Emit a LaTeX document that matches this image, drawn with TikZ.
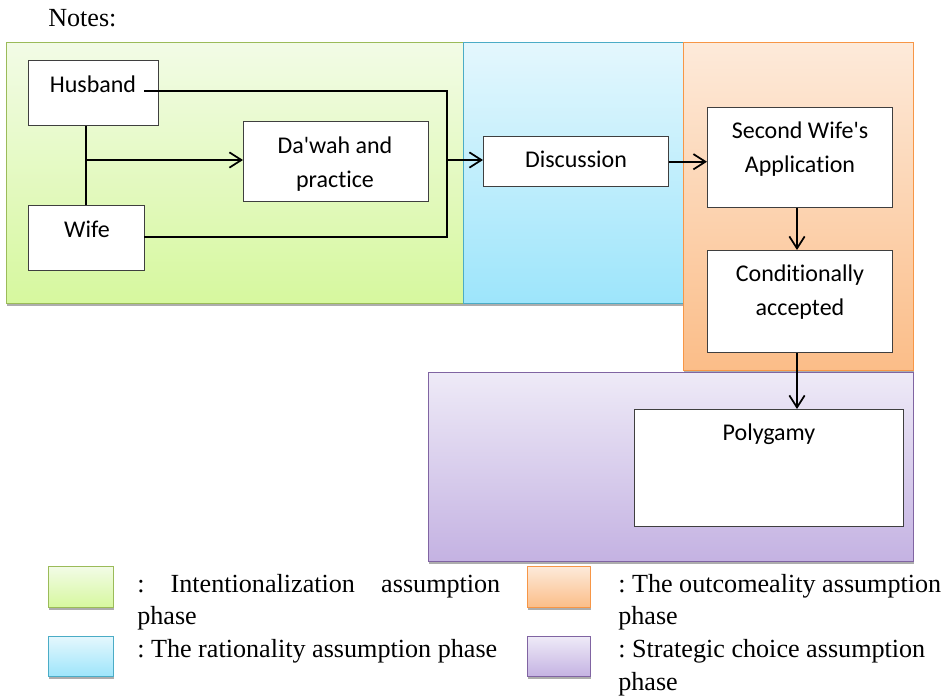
\documentclass[tikz,border=0pt]{standalone}
\usepackage{fontspec}
\setmainfont{Liberation Serif}
\newfontfamily\boxfont[Ligatures={TeXOff,NoCommon}]{Carlito}
\usetikzlibrary{arrows.meta,shadows}
\definecolor{gtop}{HTML}{F2FBE6}\definecolor{gbot}{HTML}{D6F89E}\definecolor{gdraw}{HTML}{9BBB59}
\definecolor{btop}{HTML}{E4F7FD}\definecolor{bbot}{HTML}{9DE5FB}\definecolor{bdraw}{HTML}{4BACC6}
\definecolor{otop}{HTML}{FDEADA}\definecolor{obot}{HTML}{FBBD88}\definecolor{odraw}{HTML}{F79646}
\definecolor{ptop}{HTML}{EEEAF7}\definecolor{pbot}{HTML}{C4B2E2}\definecolor{pdraw}{HTML}{8064A2}
\definecolor{boxgray}{HTML}{3F3F3F}
\frenchspacing
\begin{document}
\begin{tikzpicture}[x=0.75pt,y=-0.75pt,
  phasebox/.style={line width=1pt, inner sep=0pt, anchor=north west,
    drop shadow={shadow xshift=0.4pt, shadow yshift=-2pt, fill=black!40, opacity=0.8}},
  gphase/.style={phasebox, draw=gdraw, top color=gtop, bottom color=gbot},
  bphase/.style={phasebox, draw=bdraw, top color=btop, bottom color=bbot},
  ophase/.style={phasebox, draw=odraw, top color=otop, bottom color=obot},
  pphase/.style={phasebox, draw=pdraw, top color=ptop, bottom color=pbot},
  wbox/.style={draw=boxgray, fill=white, line width=1.1pt, inner sep=0pt, anchor=north west},
  btxt/.style={font=\boxfont\fontsize{18pt}{25.5pt}\selectfont, anchor=base, inner sep=0pt},
  ltxt/.style={font=\fontsize{19.6pt}{24pt}\selectfont, anchor=base west, inner sep=0pt},
  conn/.style={draw=black, line width=1.3pt},
  arr/.style={conn, -{Straight Barb[length=9pt,width=11.5pt]}}
]
\useasboundingbox (0,0) rectangle (943,700);

\node[ltxt] (notes) at (48,26) {Notes:};

% phase regions
\node[gphase, minimum width={457*0.75pt}, minimum height={261*0.75pt}] (green) at (6,42) {};
\node[bphase, minimum width={220*0.75pt}, minimum height={261*0.75pt}] (blue) at (463,42) {};
\node[ophase, minimum width={230*0.75pt}, minimum height={328*0.75pt}] (orange) at (683,42) {};
\node[pphase, minimum width={485*0.75pt}, minimum height={189*0.75pt}] (purple) at (428,372) {};

% white boxes
\node[wbox, minimum width={130*0.75pt}, minimum height={65*0.75pt}] (husband) at (28,60) {};
\node[wbox, minimum width={116*0.75pt}, minimum height={65*0.75pt}] (wife) at (28,205) {};
\node[wbox, minimum width={185*0.75pt}, minimum height={80*0.75pt}] (dawah) at (243,121) {};
\node[wbox, minimum width={185*0.75pt}, minimum height={50*0.75pt}] (disc) at (483,136) {};
\node[wbox, minimum width={185*0.75pt}, minimum height={100*0.75pt}] (swa) at (707,107) {};
\node[wbox, minimum width={185*0.75pt}, minimum height={102*0.75pt}] (ca) at (707,250) {};
\node[wbox, minimum width={269*0.75pt}, minimum height={117*0.75pt}] (poly) at (634,409) {};

% box texts
\node[btxt] (husband-t) at (93,92) {Husband};
\node[btxt] (wife-t) at (87,237) {Wife};
\node[btxt] (dawah-t1) at (335,153) {Da'wah and};
\node[btxt] (dawah-t2) at (335,187) {practice};
\node[btxt] (disc-t) at (576,167) {Discussion};
\node[btxt] (swa-t1) at (800,138) {Second Wife's};
\node[btxt] (swa-t2) at (800,172) {Application};
\node[btxt] (ca-t1) at (800,281) {Conditionally};
\node[btxt] (ca-t2) at (800,315) {accepted};
\node[btxt] (poly-t) at (769,440) {Polygamy};

% connectors
\coordinate (hstart) at (144,91);
\coordinate (jr) at (447,160);
\coordinate (jl) at (86,160);
\coordinate (wstart) at (144,237);
\draw[conn] (hstart) -| (jr);
\draw[conn] (wstart) -| (jr);
\draw[arr] (jr) -- (jr -| disc.west);
\draw[conn] (jl |- husband.south) -- (jl |- wife.north);
\draw[arr] (jl) -- (jl -| dawah.west);
\draw[arr] (disc.east) -- (disc.east -| swa.west);
\coordinate (vx) at (797,0);
\draw[arr] (vx |- swa.south) -- (vx |- ca.north);
\draw[arr] (vx |- ca.south) -- (vx |- poly.north);

% legend
\node[gphase, minimum width={65*0.75pt}, minimum height={41*0.75pt}] (lg-green) at (48,566) {};
\node[ophase, minimum width={63*0.75pt}, minimum height={41*0.75pt}] (lg-orange) at (527,566) {};
\node[bphase, minimum width={65*0.75pt}, minimum height={40*0.75pt}] (lg-blue) at (48,636) {};
\node[pphase, minimum width={63*0.75pt}, minimum height={40*0.75pt}] (lg-purple) at (527,636) {};

\node[ltxt] (lg-green-t1) at (137,592) {\makebox[272.25pt][s]{: Intentionalization assumption}};
\node[ltxt] (lg-green-t2) at (137,624) {phase};
\node[ltxt] (lg-orange-t1) at (618,592) {: The outcomeality assumption};
\node[ltxt] (lg-orange-t2) at (618,624) {phase};
\node[ltxt] (lg-blue-t1) at (137,657) {: The rationality assumption phase};
\node[ltxt] (lg-purple-t1) at (618,657) {: Strategic choice assumption};
\node[ltxt] (lg-purple-t2) at (618,690) {phase};
\end{tikzpicture}
\end{document}
